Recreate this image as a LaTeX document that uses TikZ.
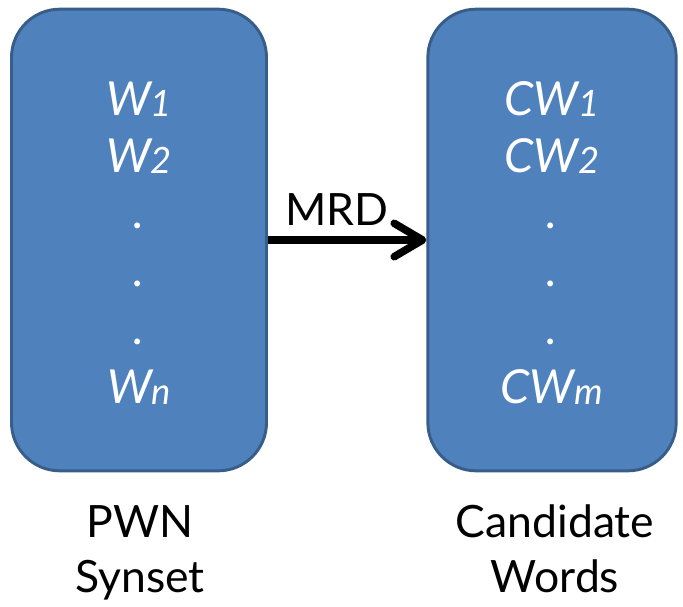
\documentclass[tikz,border=0pt]{standalone}
\usepackage{fontspec}
\setmainfont{Lato}
\usetikzlibrary{arrows.meta,positioning}
\definecolor{boxblue}{RGB}{79,129,189}
\definecolor{boxedge}{RGB}{56,93,138}
\newcommand{\sub}[1]{\raisebox{-1pt}{\fontsize{31}{31}\selectfont #1}}

\begin{document}
\begin{tikzpicture}[x=0.03cm,y=-0.03cm,
    synbox/.style={draw=boxedge, line width=2.5pt, fill=boxblue, rounded corners=1.45cm, minimum height=13.85cm},
    word/.style={anchor=base, text=white, inner sep=0pt, font=\fontsize{40}{40}\selectfont\itshape},
    caption/.style={anchor=base, inner sep=0pt, font=\fontsize{38}{38}\selectfont}]
    \useasboundingbox (0,0) rectangle (683,606);

    % the two boxes
    \node[synbox, minimum width=7.65cm] (pwn) at (139,240) {};
    \node[synbox, minimum width=7.45cm] (cand) at (552,240) {};

    % words inside
    \node[word] (w1) at (139,115) {W\sub{1}};
    \node[word] (w2) at (139,172) {W\sub{2}};
    \node[word] (wn) at (139,403) {W\sub{n}};
    \node[word] (cw1) at (552,115) {CW\sub{1}};
    \node[word] (cw2) at (552,172) {CW\sub{2}};
    \node[word] (cwm) at (552,403) {CW\sub{m}};
    \foreach \y [count=\i] in {228,286,344} {
        \node[word] (dl\i) at (139,\y) {.};
        \node[word] (dr\i) at (552,\y) {.};
    }

    % mapping arrow
    \draw[line width=6.5pt, -{Straight Barb[round, length=0.85cm, width=1.0cm]}] (pwn.east) -- (cand.west);
    \node[caption] (mrd) at (337,225) {MRD};

    % captions
    \node[caption] (pwn1) at (140,537) {PWN};
    \node[caption] (pwn2) at (140,592) {Synset};
    \node[caption] (cand1) at (555,537) {Candidate};
    \node[caption] (cand2) at (555,592) {Words};
\end{tikzpicture}
\end{document}
